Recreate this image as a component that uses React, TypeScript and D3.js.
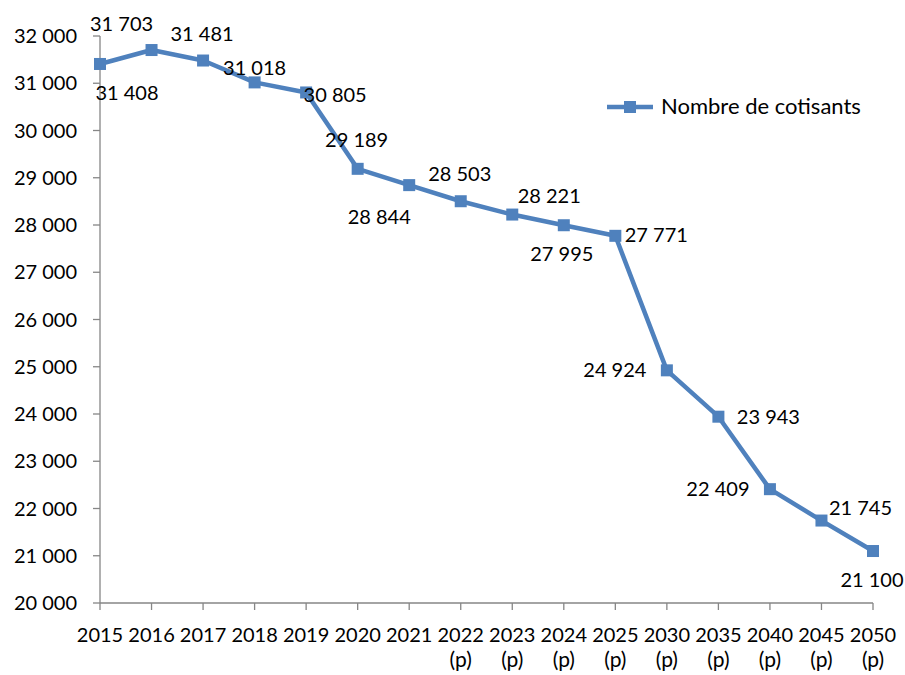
import React from "react";
import * as d3 from "d3";

const years = ["2015","2016","2017","2018","2019","2020","2021","2022","2023","2024","2025","2030","2035","2040","2045","2050"];
const projected = [false,false,false,false,false,false,false,true,true,true,true,true,true,true,true,true];
const cotisants = [31408,31703,31481,31018,30805,29189,28844,28503,28221,27995,27771,24924,23943,22409,21745,21100];
const yTicks = [20000,21000,22000,23000,24000,25000,26000,27000,28000,29000,30000,31000,32000];
const seriesName = "Nombre de cotisants";

// label offsets (style) relative to each point
const labelDx = [27,-30,-1,0,29,-1,-30,-1,37,-2,41,-52,50,-52,39,-1];
const labelDy = [29,-26,-27,-14,3,-29,32,-27,-19,29,-1,0,0,0,-13,29];

const W = 905, H = 675;
const left = 100, right = 873, top = 36, bottom = 603;
const FONT = "Lato, 'Open Sans', sans-serif";
const BLUE = "#4F81BD";
const AXIS = "#868686";

const fmt = (v: number) => {
  const s = String(v);
  return s.replace(/\B(?=(\d{3})+(?!\d))/g, " ");
};

export default function App() {
  const x = d3.scalePoint<string>().domain(years).range([left, right]).padding(0);
  const y = d3.scaleLinear().domain([20000, 32000]).range([bottom, top]);
  const line = d3.line<number>().x((_, i) => x(years[i])!).y((d) => y(d));

  return (
    <svg width={W} height={H} style={{ position: "absolute", left: 0, top: 0, background: "#fff" }} fontFamily={FONT}>
      {/* y axis */}
      <line x1={left} x2={left} y1={top} y2={bottom} stroke={AXIS} strokeWidth={1.3} />
      {yTicks.map((t) => (
        <g key={t}>
          <line x1={left - 7} x2={left} y1={y(t)} y2={y(t)} stroke={AXIS} strokeWidth={1.3} />
          <text x={77} y={y(t) + 7} textAnchor="end" fontSize={20} fill="#000">{fmt(t)}</text>
        </g>
      ))}
      {/* x axis */}
      <line x1={left} x2={right} y1={bottom} y2={bottom} stroke={AXIS} strokeWidth={1.3} />
      {years.map((yr, i) => (
        <g key={yr}>
          <line x1={x(yr)} x2={x(yr)} y1={bottom} y2={bottom + 7} stroke={AXIS} strokeWidth={1.3} />
          <text x={x(yr)} y={642} textAnchor="middle" fontSize={20} fill="#000">{yr}</text>
          {projected[i] && (
            <text x={x(yr)} y={667} textAnchor="middle" fontSize={21} fill="#000">(p)</text>
          )}
        </g>
      ))}
      {/* series */}
      <path d={line(cotisants)!} fill="none" stroke={BLUE} strokeWidth={4.5} strokeLinejoin="round" />
      {cotisants.map((v, i) => (
        <rect key={i} x={x(years[i])! - 6} y={y(v) - 6} width={12} height={12} fill={BLUE} />
      ))}
      {cotisants.map((v, i) => (
        <text key={"l" + i} x={x(years[i])! + labelDx[i]} y={y(v) + labelDy[i] + 7} textAnchor="middle" fontSize={20} fill="#000">
          {fmt(v)}
        </text>
      ))}
      {/* legend */}
      <line x1={607} x2={653} y1={107} y2={107} stroke={BLUE} strokeWidth={4.5} />
      <rect x={624} y={101} width={12} height={12} fill={BLUE} />
      <text x={661} y={114} fontSize={22} fill="#000">{seriesName}</text>
    </svg>
  );
}
